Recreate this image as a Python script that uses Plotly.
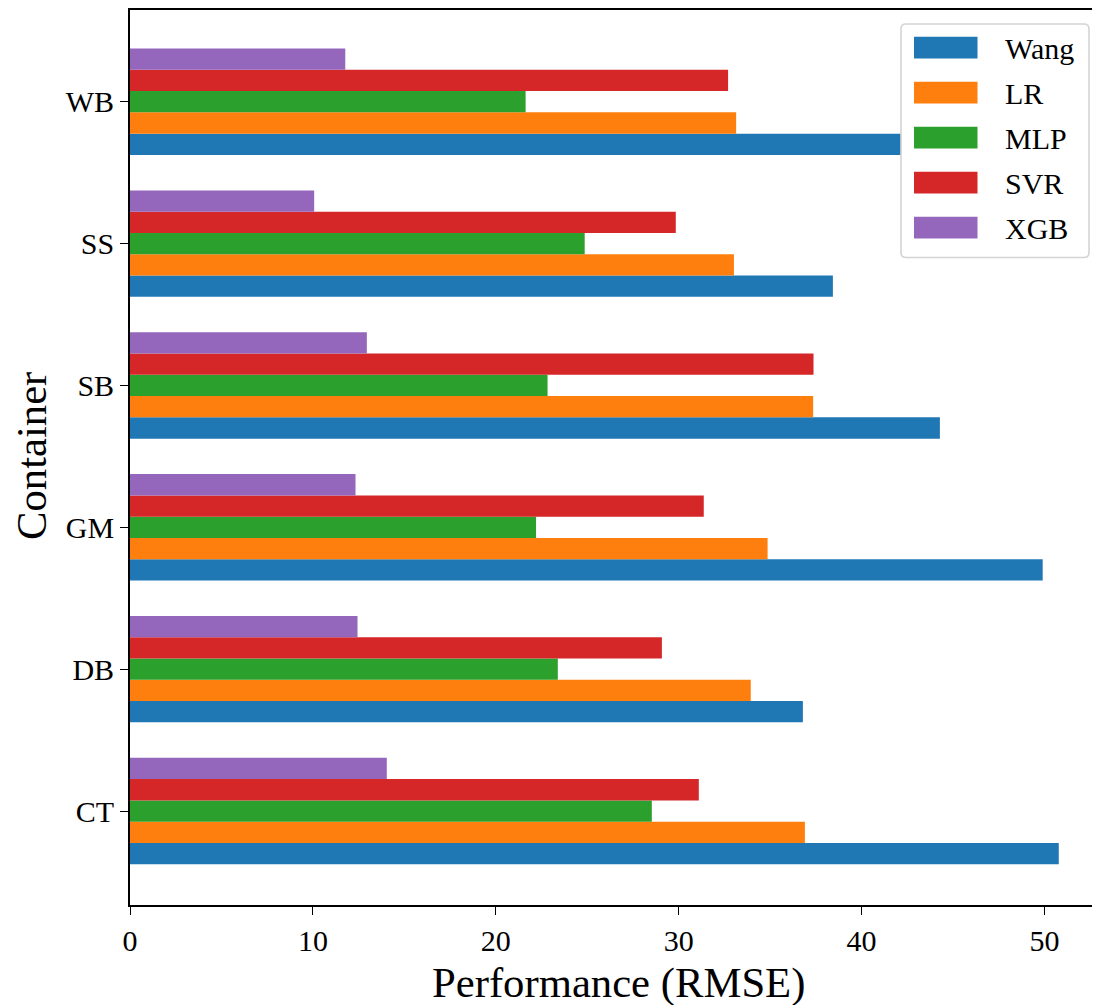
import plotly.graph_objects as go

categories = ["CT", "DB", "GM", "SB", "SS", "WB"]
methods = ["Wang", "LR", "MLP", "SVR", "XGB"]
wang = [50.78, 36.79, 49.90, 44.28, 38.43, 44.50]
lr = [36.90, 33.94, 34.86, 37.35, 33.02, 33.14]
mlp = [28.53, 23.39, 22.20, 22.83, 24.86, 21.63]
svr = [31.10, 29.08, 31.37, 37.37, 29.84, 32.70]
xgb = [14.04, 12.44, 12.33, 12.95, 10.07, 11.77]
x_ticks = [0, 10, 20, 30, 40, 50]

series = [wang, lr, mlp, svr, xgb]
colors = ["#1f77b4", "#ff7f0e", "#2ca02c", "#d62728", "#9467bd"]
FONT = "Liberation Serif, Times New Roman, serif"

# page has an 8px body margin; figure sized to fit the window
OFF = 8
W, H = 1100 - OFF, 1005 - OFF
PLEFT, PRIGHT, PTOP, PBOT = 130, 1097, OFF, 905   # plot area in page pixels
ML, MR, MT, MB = PLEFT - OFF, (OFF + W) - PRIGHT, PTOP - OFF, (OFF + H) - PBOT
PW, PH = PRIGHT - PLEFT, PBOT - PTOP

fig = go.Figure()
for name, vals, col in zip(methods, series, colors):
    fig.add_trace(go.Bar(
        y=categories, x=vals, name=name, orientation="h",
        marker=dict(color=col, line=dict(width=0)),
        showlegend=False,
    ))

def px_x(p):
    return (p - PLEFT) / PW

def px_y(p):
    return (PBOT - p) / PH

# Manual legend (matplotlib style)
lx0, lx1, ly0, ly1 = 901, 1089, 22, 256
r = 5
rx, ry = r / PW, r / PH
X0, X1, Y0, Y1 = px_x(lx0), px_x(lx1), px_y(ly1), px_y(ly0)
path = (f"M{X0+rx},{Y0} L{X1-rx},{Y0} Q{X1},{Y0} {X1},{Y0+ry} "
        f"L{X1},{Y1-ry} Q{X1},{Y1} {X1-rx},{Y1} L{X0+rx},{Y1} "
        f"Q{X0},{Y1} {X0},{Y1-ry} L{X0},{Y0+ry} Q{X0},{Y0} {X0+rx},{Y0} Z")
shapes = [dict(type="path", path=path, xref="paper", yref="paper",
               fillcolor="white", line=dict(color="#d4d4d4", width=1.6),
               layer="above")]
annotations = []
for i, (name, col) in enumerate(zip(methods, colors)):
    cy = 45.7 + i * 45.1
    shapes.append(dict(type="rect", xref="paper", yref="paper",
                       x0=px_x(914), x1=px_x(977.5),
                       y0=px_y(cy + 11), y1=px_y(cy - 11),
                       fillcolor=col, line=dict(width=0), layer="above"))
    annotations.append(dict(text=name, xref="paper", yref="paper",
                            x=px_x(1003), y=px_y(cy + 1), xanchor="left",
                            yanchor="middle", showarrow=False,
                            font=dict(family=FONT, size=30, color="black")))

annotations.append(dict(text="Performance (RMSE)", xref="paper", yref="paper",
                        x=px_x(618), y=px_y(983), xanchor="center", yanchor="middle",
                        showarrow=False,
                        font=dict(family=FONT, size=42.7, color="black")))
annotations.append(dict(text="Container", xref="paper", yref="paper",
                        x=px_x(31), y=px_y(455), xanchor="center",
                        yanchor="middle", textangle=-90, showarrow=False,
                        font=dict(family=FONT, size=42.7, color="black")))

# y scale: 142.3 px per category, WB centered at page y=100
ytop = 5 + (100 - PTOP) / 142.3

fig.update_layout(
    width=W, height=H,
    margin=dict(l=ML, r=MR, t=MT, b=MB, pad=0),
    paper_bgcolor="white", plot_bgcolor="white",
    barmode="group", bargap=0.25, bargroupgap=0,
    shapes=shapes, annotations=annotations,
    font=dict(family=FONT, size=30, color="black"),
    showlegend=False,
)
fig.update_xaxes(
    range=[0, 52.87], tickvals=x_ticks, ticktext=[str(t) for t in x_ticks],
    showgrid=False, zeroline=False,
    showline=True, linecolor="black", linewidth=1.8, mirror=True,
    ticks="outside", ticklen=8, tickwidth=1.4, tickcolor="black",
    tickfont=dict(family=FONT, size=30, color="black"),
)
fig.update_yaxes(
    type="category", categoryorder="array", categoryarray=categories,
    range=[-0.6625, ytop],
    showgrid=False, zeroline=False,
    showline=True, linecolor="black", linewidth=1.8, mirror=True,
    ticks="outside", ticklen=8, tickwidth=1.4, tickcolor="black",
    tickfont=dict(family=FONT, size=30, color="black"),
)

fig.write_html("out.html")
